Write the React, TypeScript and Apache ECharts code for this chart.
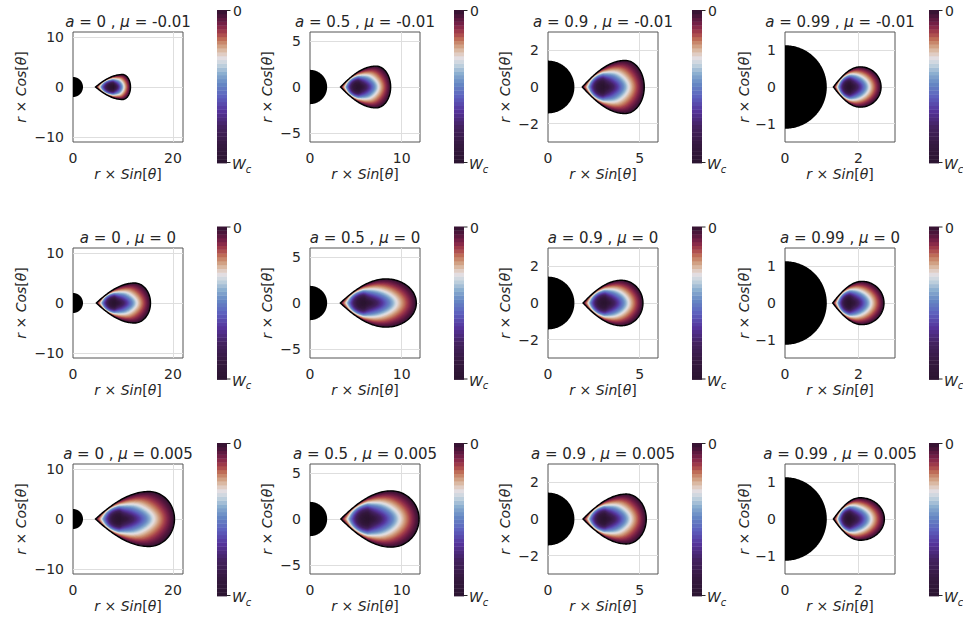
import React, { useEffect, useRef } from "react";
import * as echarts from "echarts";

// ---------- data ----------
const SPINS = ["0", "0.5", "0.9", "0.99"];
const MUS = ["-0.01", "0", "0.005"];
const X_MAX = [22, 12, 6, 3];
const Y_MAX = [11, 6, 3, 1.5];
const X_TICKS = [[0, 20], [0, 10], [0, 5], [0, 2]];
const Y_TICKS = [[-10, 0, 10], [-5, 0, 5], [-2, 0, 2], [-1, 0, 1]];
const HORIZON_R = [2.0, 1.87, 1.44, 1.14];
// torus geometry, rows = mu, columns = spin
const CUSP_R = [[4.5, 3.33, 1.87, 1.32], [4.67, 3.31, 1.91, 1.3], [4.5, 3.36, 1.91, 1.32]];
const CENTER_R = [[8.0, 5.3, 3.0, 1.77], [8.3, 5.9, 3.1, 1.77], [9.3, 6.3, 3.09, 1.77]];
const OUTER_R = [[11.5, 8.8, 5.25, 2.62], [15.5, 11.6, 5.18, 2.7], [20.3, 11.9, 5.36, 2.71]];
const HALF_H = [[2.5, 2.28, 1.45, 0.55], [4.0, 2.63, 1.24, 0.59], [5.5, 3.07, 1.36, 0.58]];
const PEAK_R = [[9.9, 7.2, 4.2, 2.05], [12.3, 8.3, 4.0, 2.1], [15.2, 8.85, 4.27, 2.05]];
// colour map (W_c at 0 -> 0 at 1)
const CMAP_POS = [0, 0.12, 0.24, 0.34, 0.43, 0.52, 0.59, 0.65, 0.69, 0.73, 0.77, 0.81, 0.85, 0.9, 0.95, 1];
const CMAP_HEX = ["#2b1530", "#35193f", "#432260", "#55339a", "#5d5fbd", "#6688c4", "#8db0d0", "#c9d6df",
  "#e4dde1", "#dcc0ad", "#cf9a7a", "#bf6f58", "#a8424b", "#7e2248", "#53163c", "#2f1230"];

// ---------- layout ----------
const GRID_LEFT = [73, 310, 548, 785];
const GRID_TOP = [32, 248, 464];
const PLOT = 110;
const CB_TOP = [10, 226.5, 443];
const CB_H = 153;
const CB_W = 10;
const CB_OFFSET = 144;
const Y_NAME_GAP = [45, 36, 36, 33];
const TEXT = "#262626";
const FONT = "DejaVu Sans";

function hexToRgb(h: string) {
  return [parseInt(h.slice(1, 3), 16), parseInt(h.slice(3, 5), 16), parseInt(h.slice(5, 7), 16)];
}
const CMAP_RGB = CMAP_HEX.map(hexToRgb);
function cmap(v: number) {
  const t = Math.max(0, Math.min(1, v));
  let k = 0;
  while (k < CMAP_POS.length - 2 && t > CMAP_POS[k + 1]) k++;
  const f = (t - CMAP_POS[k]) / (CMAP_POS[k + 1] - CMAP_POS[k]);
  const a = CMAP_RGB[k], b = CMAP_RGB[k + 1];
  const c = a.map((x, i) => Math.round(x + (b[i] - x) * f));
  return `rgb(${c[0]},${c[1]},${c[2]})`;
}
// potential level (0 centre .. 1 surface) -> colour position: flatter near the centre
function levelToColour(v: number) {
  const W = 0.69;
  return v < W ? W * Math.pow(v / W, 1.45) : v;
}

const N_BANDS = 70;

function profile(u: number, p: number) {
  if (u <= p) {
    const t = u / p;
    return 0.5 * Math.sin((Math.PI * t) / 2) + 0.5 * (1 - (1 - t) * (1 - t));
  }
  const t = (u - p) / (1 - p);
  return Math.sqrt(Math.max(0, 1 - t * t));
}

function renderTorus(params: any, api: any) {
  const rIn = api.value(0), rC = api.value(1), rOut = api.value(2), h = api.value(3), rPk = api.value(4);
  const span = rOut - rIn;
  const p = (rPk - rIn) / span;
  const M = 80;
  const up: number[][] = [];
  for (let j = 0; j <= M; j++) {
    const u = (1 - Math.cos((Math.PI * j) / M)) / 2;
    up.push([rIn + u * span, h * profile(u, p)]);
  }
  const bnd = up.concat(up.slice(1, M).reverse().map(([x, y]) => [x, -y]));
  const yC = h * profile((rC - rIn) / span, p);
  const polar = bnd.map(([x, y]) => {
    const dx = x - rC, dy = y;
    const RB = Math.hypot(dx, dy) || 1e-9;
    const cs = dx / RB, sn = dy / RB;
    const a = cs < 0 ? rC - rIn : rOut - rC;
    const RE = 1 / Math.sqrt((cs * cs) / (a * a) + (sn * sn) / (yC * yC));
    const e = cs < 0 ? 0.75 : 0.75 + 0.5 * cs;
    return { cs, sn, RB, RE, e };
  });
  const children: any[] = [];
  for (let k = N_BANDS; k >= 1; k--) {
    const v = k / N_BANDS;
    const lam = v * v;
    const pts = polar.map((q) => {
      const R = Math.pow(v, q.e) * (lam * q.RB + (1 - lam) * q.RE);
      return api.coord([rC + R * q.cs, R * q.sn]);
    });
    children.push({
      type: "polygon",
      shape: { points: pts },
      style: { fill: cmap(levelToColour((k - 0.5) / N_BANDS)) },
    });
  }
  children.push({
    type: "polygon",
    shape: { points: bnd.map(([x, y]) => api.coord([x, y])) },
    style: { fill: "none", stroke: "#000", lineWidth: 1.4 },
  });
  return { type: "group", children };
}

function renderHorizon(params: any, api: any) {
  const r = api.value(0);
  const pts: number[][] = [];
  for (let j = 0; j <= 120; j++) {
    const a = -Math.PI / 2 + (Math.PI * j) / 120;
    pts.push(api.coord([r * Math.cos(a), r * Math.sin(a)]));
  }
  return { type: "polygon", shape: { points: pts }, style: { fill: "#000" } };
}

const fmt = (v: number) => (v < 0 ? "\u2212" + Math.abs(v) : String(v));
const italicRich = (size: number) => ({
  i: { fontStyle: "italic", fontSize: size, fontFamily: FONT, color: TEXT },
});

function buildOption() {
  const grid: any[] = [], xAxis: any[] = [], yAxis: any[] = [], series: any[] = [], graphic: any[] = [];
  for (let r = 0; r < 3; r++) {
    for (let c = 0; c < 4; c++) {
      const i = r * 4 + c;
      const left = GRID_LEFT[c], top = GRID_TOP[r];
      grid.push({ left, top, width: PLOT, height: PLOT, show: true, borderColor: "#555", borderWidth: 1, backgroundColor: "transparent" });
      xAxis.push({
        gridIndex: i, type: "value", min: 0, max: X_MAX[c],
        axisLine: { show: false }, axisTick: { show: false }, splitLine: { show: false },
        axisLabel: { customValues: X_TICKS[c], formatter: fmt, fontSize: 14, color: TEXT, fontFamily: FONT, margin: 9 },
        name: "{i|r} × {i|Sin}[{i|θ}]", nameLocation: "middle", nameGap: 25,
        nameTextStyle: { fontSize: 14, color: TEXT, fontFamily: FONT, rich: italicRich(14) },
      });
      yAxis.push({
        gridIndex: i, type: "value", min: -Y_MAX[c], max: Y_MAX[c],
        axisLine: { show: false }, axisTick: { show: false }, splitLine: { show: false },
        axisLabel: { customValues: Y_TICKS[c], formatter: fmt, fontSize: 14, color: TEXT, fontFamily: FONT, margin: 9 },
        name: "{i|r} × {i|Cos}[{i|θ}]", nameLocation: "middle", nameGap: Y_NAME_GAP[c],
        nameTextStyle: { fontSize: 14, color: TEXT, fontFamily: FONT, rich: italicRich(14) },
      });
      series.push({
        type: "line", xAxisIndex: i, yAxisIndex: i, data: [], silent: true, z: 1,
        markLine: {
          silent: true, symbol: ["none", "none"], label: { show: false }, animation: false, z: 1,
          lineStyle: { color: "#dedede", width: 1, type: "solid" },
          emphasis: { disabled: true },
          data: [
            ...X_TICKS[c].filter((v) => v > 0).map((v) => ({ xAxis: v })),
            ...Y_TICKS[c].map((v) => ({ yAxis: v })),
          ],
        },
      });
      series.push({
        type: "custom", xAxisIndex: i, yAxisIndex: i, z: 10, silent: true, clip: false,
        renderItem: renderTorus,
        data: [[CUSP_R[r][c], CENTER_R[r][c], OUTER_R[r][c], HALF_H[r][c], PEAK_R[r][c]]],
      });
      series.push({
        type: "custom", xAxisIndex: i, yAxisIndex: i, z: 11, silent: true, clip: false,
        renderItem: renderHorizon,
        data: [[HORIZON_R[c], 0]],
      });
      // title
      graphic.push({
        type: "text", x: left + PLOT / 2, y: top - 10, silent: true,
        style: {
          text: `{i|a} = ${SPINS[c]} , {i|μ} = ${MUS[r]}`,
          fill: TEXT, font: `15px "${FONT}"`, align: "center", verticalAlign: "middle",
          rich: { i: { fontStyle: "italic", fontSize: 15, fontFamily: FONT, fill: TEXT } },
        },
      });
      // colour bar
      const cbx = left + CB_OFFSET, cby = CB_TOP[r];
      const NB = 40;
      const bars: any[] = [];
      for (let b = 0; b < NB; b++) {
        const col = cmap((b + 0.5) / NB);
        bars.push({
          type: "rect",
          shape: { x: cbx, y: cby + CB_H * (1 - (b + 1) / NB), width: CB_W, height: CB_H / NB + 0.4 },
          style: { fill: col, stroke: null },
        });
      }
      graphic.push({ type: "group", silent: true, children: bars });
      graphic.push({
        type: "line", silent: true,
        shape: { x1: cbx + CB_W, y1: cby + 0.5, x2: cbx + CB_W + 3.5, y2: cby + 0.5 },
        style: { stroke: TEXT, lineWidth: 1 },
      });
      graphic.push({
        type: "line", silent: true,
        shape: { x1: cbx + CB_W, y1: cby + CB_H - 0.5, x2: cbx + CB_W + 3.5, y2: cby + CB_H - 0.5 },
        style: { stroke: TEXT, lineWidth: 1 },
      });
      graphic.push({
        type: "text", silent: true, x: cbx + CB_W + 6, y: cby + 1,
        style: { text: "0", fill: TEXT, font: `14px "${FONT}"`, align: "left", verticalAlign: "middle" },
      });
      graphic.push({
        type: "text", silent: true, x: cbx + CB_W + 5, y: cby + CB_H + 1,
        style: {
          text: "{w|W}{c|c}", fill: TEXT, align: "left", verticalAlign: "middle",
          rich: {
            w: { fontStyle: "italic", fontSize: 14, fontFamily: FONT, fill: TEXT, lineHeight: 20 },
            c: { fontStyle: "italic", fontSize: 10, fontFamily: FONT, fill: TEXT, lineHeight: 10, verticalAlign: "bottom" },
          },
        },
      });
    }
  }
  return { animation: false, backgroundColor: "#fff", grid, xAxis, yAxis, series, graphic };
}

export default function App() {
  const ref = useRef<HTMLDivElement>(null);
  useEffect(() => {
    if (!ref.current) return;
    const chart = echarts.init(ref.current, undefined, { renderer: "svg" });
    chart.setOption(buildOption() as any);
    return () => chart.dispose();
  }, []);
  return <div ref={ref} style={{ position: "absolute", left: 0, top: 0, width: 963, height: 622 }} />;
}
